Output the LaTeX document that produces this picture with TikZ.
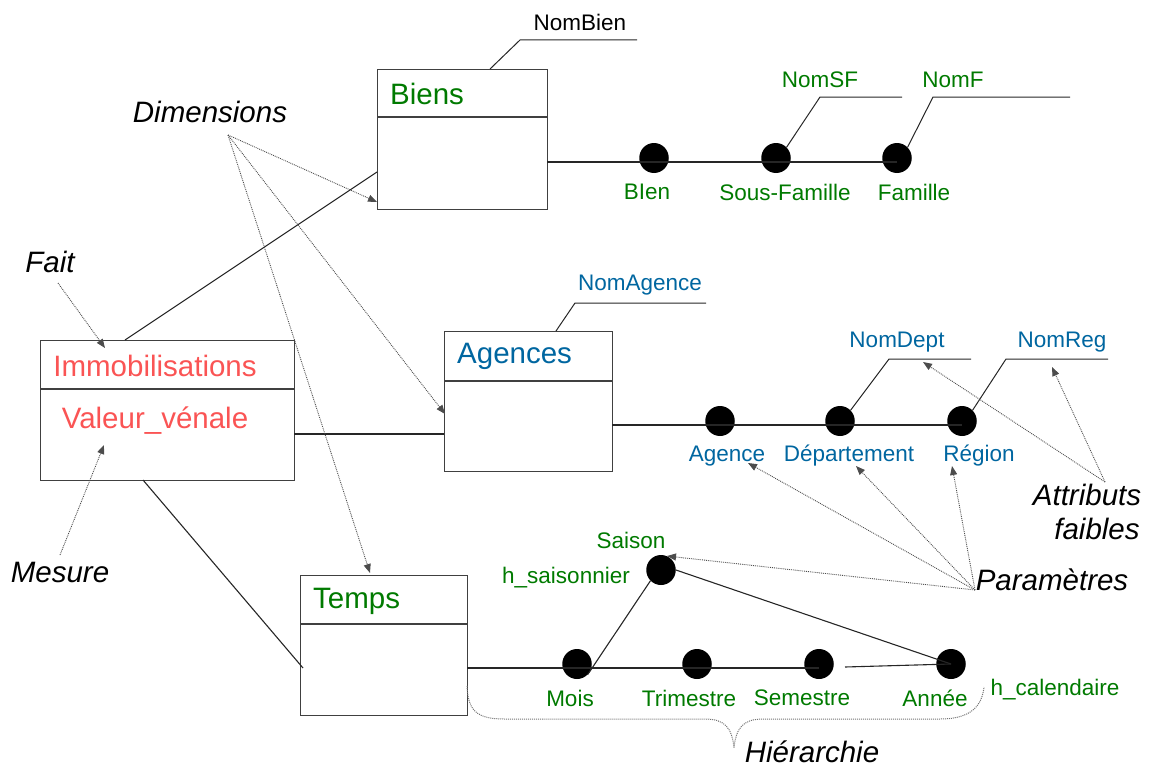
\documentclass[tikz,border=0pt]{standalone}
\usepackage{fontspec}
\setmainfont{Liberation Sans}
\usetikzlibrary{arrows.meta,shapes.geometric}
\definecolor{grn}{RGB}{0,122,0}
\definecolor{blu}{RGB}{0,102,160}
\definecolor{rd}{RGB}{250,84,84}
\begin{document}
\begin{tikzpicture}[x=1pt,y=-1pt,
  box/.style={draw=black!75, line width=1.2pt, inner sep=0pt, anchor=north west},
  dot/.style={ellipse, fill=black, minimum width=29.5pt, minimum height=30pt, inner sep=0pt},
  conn/.style={draw=black!85, line width=1.1pt},
  lead/.style={draw=black!85, line width=1pt},
  ann/.style={densely dotted, draw=black!70, line width=0.9pt, -{Triangle[length=9pt,width=7pt]}},
  big/.style={font=\fontsize{29.5}{30}\selectfont, inner sep=0pt},
  small/.style={font=\fontsize{22.5}{24}\selectfont, inner sep=0pt},
  note/.style={font=\fontsize{29.5}{30}\selectfont\itshape, inner sep=0pt},
  brace/.style={densely dotted, draw=black!55, line width=1pt}]
\useasboundingbox (0,0) rectangle (1153,768);

% ---------- boxes ----------
\node[box, minimum width=170pt, minimum height=140pt] (biens) at (377,69) {};
\draw[box] (377,117) -- (547,117);
\node[big, text=grn, anchor=west] (biensT) at (390,94) {Biens};

\node[box, minimum width=254pt, minimum height=140pt] (immo) at (40,340) {};
\draw[box] (40,389) -- (294,389);
\node[big, text=rd] (immoT) at (155,366) {Immobilisations};
\node[big, text=rd] (valeur) at (155,421) {Valeur\_vénale};

\node[box, minimum width=168pt, minimum height=140pt] (agences) at (444,331) {};
\draw[box] (444,381) -- (612,381);
\node[big, text=blu, anchor=west] (agencesT) at (457,356) {Agences};

\node[box, minimum width=167pt, minimum height=140pt] (temps) at (300,575) {};
\draw[box] (300,624) -- (467,624);
\node[big, text=grn, anchor=west] (tempsT) at (313,601) {Temps};

% ---------- Biens hierarchy ----------
\node[dot] (bien) at (654,158) {};
\node[dot] (sfam) at (776,158) {};
\node[dot] (fam) at (897,158) {};
\coordinate (biensR) at (547,162);
\draw[conn] (biensR) -- (fam.center |- biensR);
\node[small, text=grn] (bienL) at (647,192) {BIen};
\node[small, text=grn] (sfamL) at (785,192) {Sous-Famille};
\node[small, text=grn] (famL) at (914,192) {Famille};

\node[small] (nombien) at (580,22) {NomBien};
\coordinate (nb1) at (520,40); \coordinate (nb2) at (637,40);
\draw[lead] (490,69) -- (nb1) -- (nb2);
\node[small, text=grn] (nomsf) at (820,80) {NomSF};
\coordinate (sf1) at (820,97); \coordinate (sf2) at (902,97);
\draw[lead] (sfam.north east) -- (sf1) -- (sf2);
\node[small, text=grn] (nomf) at (953,80) {NomF};
\coordinate (f1) at (933,97); \coordinate (f2) at (1070,97);
\draw[lead] (fam.north east) -- (f1) -- (f2);

% ---------- Agences hierarchy ----------
\node[dot] (agence) at (720,421) {};
\node[dot] (dept) at (840,421) {};
\node[dot] (reg) at (962,421) {};
\coordinate (agR) at (612,425);
\draw[conn] (agR) -- (reg.center |- agR);
\node[small, text=blu] (agenceL) at (727,456) {Agence};
\node[small, text=blu] (deptL) at (849,456) {Département};
\node[small, text=blu] (regL) at (979,456) {Région};

\node[small, text=blu] (nomag) at (640,285) {NomAgence};
\coordinate (na1) at (575,303); \coordinate (na2) at (706,303);
\draw[lead] (556,331) -- (na1) -- (na2);
\node[small, text=blu] (nomdept) at (897,342) {NomDept};
\coordinate (nd1) at (889,359); \coordinate (nd2) at (971,359);
\draw[lead] (dept.north east) -- (nd1) -- (nd2);
\node[small, text=blu] (nomreg) at (1062,342) {NomReg};
\coordinate (nr1) at (1006,359); \coordinate (nr2) at (1108,359);
\draw[lead] (reg.north east) -- (nr1) -- (nr2);

% ---------- Temps hierarchy ----------
\node[dot] (mois) at (577,664) {};
\node[dot] (trim) at (697,664) {};
\node[dot] (sem) at (819,664) {};
\node[dot] (annee) at (951,664) {};
\node[dot] (saison) at (661,570) {};
\coordinate (tpR) at (467,668);
\draw[conn] (tpR) -- (sem.center |- tpR);
\draw[conn] (845,667) -- (annee.center);
\draw[conn] (mois.south east) -- (saison.south west);
\draw[conn] (saison.east) -- (annee.center);
\node[small, text=grn] (moisL) at (570,698) {Mois};
\node[small, text=grn] (trimL) at (689,698) {Trimestre};
\node[small, text=grn] (semL) at (802,698) {Semestre};
\node[small, text=grn] (anneeL) at (935,698) {Année};
\node[small, text=grn] (saisonL) at (631,540) {Saison};
\node[small, text=grn] (hsais) at (566,578) {h\_saisonnier};
\node[small, text=grn] (hcal) at (1055,690) {h\_calendaire};

% ---------- fact to dimensions ----------
\draw[conn] (125,340) -- (377,172);
\draw[conn] (294,434) -- (444,434);
\draw[conn] (143,480) -- (303,668);

% ---------- annotations ----------
\node[note] (dims) at (210,112) {Dimensions};
\coordinate (dimsP) at (228,135);
\draw[ann] (dimsP) -- (377,202);
\draw[ann] (dimsP) -- (445,414);
\draw[ann] (dimsP) -- (370,573);

\node[note] (fait) at (50,262) {Fait};
\draw[ann] (58,283) -- (105,348);
\node[note] (mesure) at (60,572) {Mesure};
\draw[ann] (60,555) -- (104,445);

\node[note] (attr1) at (1087,495) {Attributs};
\node[note] (attr2) at (1097,529) {faibles};
\coordinate (attrP) at (1105,482);
\draw[ann] (attrP) -- (923,362);
\draw[ann] (attrP) -- (1052,367);

\node[note] (param) at (1052,580) {Paramètres};
\coordinate (paramP) at (975,590);
\draw[ann] (paramP) -- (748,463);
\draw[ann] (paramP) -- (856,466);
\draw[ann] (paramP) -- (952,466);
\draw[ann] (paramP) -- (667,556);

% ---------- brace ----------
\node[note] (hier) at (812,752) {Hiérarchie};
\coordinate (brL) at (467,686);
\coordinate (brM) at (734,748);
\coordinate (brR) at (984,687);
\draw[brace] (brL) .. controls (468,712) and (478,719) .. (505,719)
  -- (705,719) .. controls (725,719) and (732,728) .. (brM)
  .. controls (736,728) and (743,719) .. (763,719)
  -- (940,719) .. controls (972,719) and (982,705) .. (brR);
\end{tikzpicture}
\end{document}
